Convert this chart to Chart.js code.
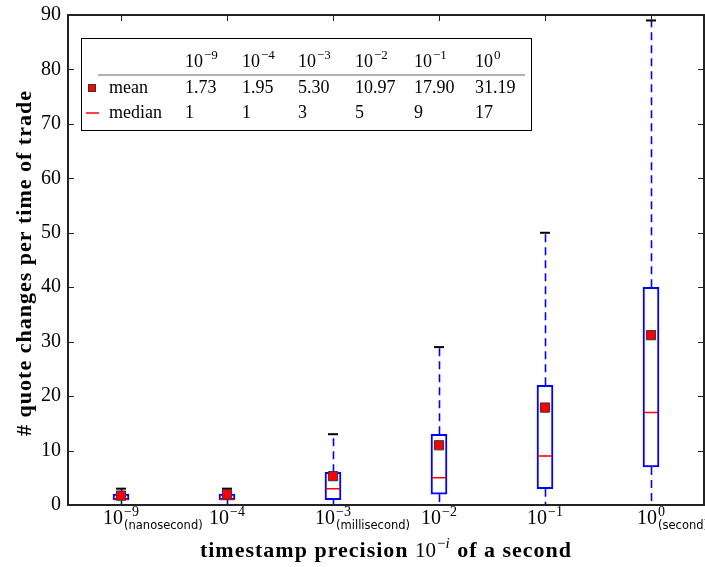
<!DOCTYPE html>
<html>
<head>
<meta charset="utf-8">
<script src="https://cdn.jsdelivr.net/npm/chart.js@4.4.1/dist/chart.umd.min.js"></script>
<style>
  html, body { margin: 0; padding: 0; background: #fff; }
</style>
</head>
<body>
<canvas id="boxChart" width="705" height="567"></canvas>
<script>
// precision 10^-i of a second
const exponents = [-9, -4, -3, -2, -1, 0];
const unitNames = ["(nanosecond)", "", "(millisecond)", "", "", "(second)"];

// box plot stats per precision
const whiskerLow = [0, 0, 0, 0, 0, 0];
const q1 = [1, 1, 1, 2, 3, 7];
const medians = [1, 1, 3, 5, 9, 17];
const q3 = [2, 2, 6, 13, 22, 40];
const whiskerHigh = [3, 3, 13, 29, 50, 89];
const means = [1.73, 1.95, 5.30, 10.97, 17.90, 31.19];

const yTitle = "# quote changes per time of trade";

const serif = "'Liberation Serif', 'DejaVu Serif', serif";
const sans = "'DejaVu Sans', sans-serif";

// draws 10^exp at x (baseline y), returns where the base "10" ends and the whole thing ends
function drawPow(ctx, x, y, exp, size, center, raise) {
  const sup = String(exp).replace("-", "\u2212");
  const supSize = Math.round(size * 0.72);
  ctx.font = size + "px " + serif;
  const wb = ctx.measureText("10").width;
  ctx.font = supSize + "px " + serif;
  const ws = ctx.measureText(sup).width;
  const x0 = center ? x - (wb + ws + 1) / 2 : x;
  ctx.textAlign = "left";
  ctx.textBaseline = "alphabetic";
  ctx.font = size + "px " + serif;
  ctx.fillText("10", x0, y);
  ctx.font = supSize + "px " + serif;
  ctx.fillText(sup, x0 + wb + 1, y - raise);
  return { base: x0 + wb, end: x0 + wb + 1 + ws };
}

const boxPlotExtras = {
  id: "boxPlotExtras",
  beforeDatasetsDraw(chart) {
    const { ctx } = chart;
    const xs = chart.scales.x, ys = chart.scales.y;
    ctx.save();
    // dashed whiskers
    ctx.strokeStyle = "blue";
    ctx.lineWidth = 1.6;
    ctx.setLineDash([8, 5]);
    exponents.forEach((e, i) => {
      const x = Math.round(xs.getPixelForValue(i)) + 0.5;
      ctx.beginPath();
      ctx.moveTo(x, ys.getPixelForValue(q3[i]));
      ctx.lineTo(x, ys.getPixelForValue(whiskerHigh[i]));
      ctx.stroke();
      ctx.beginPath();
      ctx.moveTo(x, ys.getPixelForValue(q1[i]));
      ctx.lineTo(x, ys.getPixelForValue(whiskerLow[i]));
      ctx.stroke();
    });
    ctx.restore();
  },
  afterDraw(chart) {
    const { ctx, chartArea: a } = chart;
    const xs = chart.scales.x, ys = chart.scales.y;
    ctx.save();
    // frame
    ctx.strokeStyle = "#222";
    ctx.lineWidth = 2;
    ctx.strokeRect(a.left, a.top, a.right - a.left, a.bottom - a.top);
    // inward ticks
    ctx.lineWidth = 1;
    ctx.beginPath();
    ys.ticks.forEach((t) => {
      const y = Math.round(ys.getPixelForValue(t.value)) + 0.5;
      ctx.moveTo(a.left, y); ctx.lineTo(a.left + 6, y);
      ctx.moveTo(a.right, y); ctx.lineTo(a.right - 6, y);
    });
    exponents.forEach((e, i) => {
      const x = Math.round(xs.getPixelForValue(i)) + 0.5;
      ctx.moveTo(x, a.top); ctx.lineTo(x, a.top + 6);
    });
    ctx.stroke();

    // x tick labels
    ctx.fillStyle = "#000";
    exponents.forEach((e, i) => {
      const p = drawPow(ctx, xs.getPixelForValue(i), 524, e, 20, true, 8);
      if (unitNames[i]) {
        ctx.font = "11.5px " + sans;
        ctx.fillText(unitNames[i], p.base + 1, 529);
      }
    });

    // x title: timestamp precision 10^-i of a second
    const p1 = "timestamp precision ", p3 = " of a second";
    const bold = "bold 22px " + serif;
    ctx.letterSpacing = "1px";
    ctx.font = bold;
    const w1 = ctx.measureText(p1).width, w3 = ctx.measureText(p3).width;
    ctx.letterSpacing = "0px";
    ctx.font = "21px " + serif;
    const w10 = ctx.measureText("10").width;
    ctx.font = "15px " + serif;
    const wm = ctx.measureText("\u2212").width;
    ctx.font = "italic 15px " + serif;
    const wi = ctx.measureText("i").width;
    let tx = (a.left + a.right) / 2 - (w1 + w10 + wm + wi + 2 + w3) / 2;
    const ty = 557;
    ctx.letterSpacing = "1px";
    ctx.font = bold;
    ctx.fillText(p1, tx, ty); tx += w1;
    ctx.letterSpacing = "0px";
    ctx.font = "21px " + serif;
    ctx.fillText("10", tx, ty); tx += w10 + 1;
    ctx.font = "15px " + serif;
    ctx.fillText("\u2212", tx, ty - 9); tx += wm;
    ctx.font = "italic 15px " + serif;
    ctx.fillText("i", tx, ty - 9); tx += wi + 1;
    ctx.letterSpacing = "1px";
    ctx.font = bold;
    ctx.fillText(p3, tx, ty);

    // y title
    ctx.save();
    ctx.translate(31, (a.top + a.bottom) / 2 + 3);
    ctx.rotate(-Math.PI / 2);
    ctx.textAlign = "center";
    ctx.font = bold;
    ctx.fillText(yTitle, 0, 0);
    ctx.restore();
    ctx.letterSpacing = "0px";
    ctx.textAlign = "left";

    // table legend
    const L = 81, T = 38, R = 531, B = 130;
    ctx.fillStyle = "#fff";
    ctx.fillRect(L, T, R - L, B - T);
    ctx.strokeStyle = "#000";
    ctx.lineWidth = 1;
    ctx.strokeRect(L + 0.5, T + 0.5, R - L, B - T);
    const cols = [185, 242, 298, 355, 414, 475];
    ctx.fillStyle = "#000";
    exponents.forEach((e, i) => drawPow(ctx, cols[i], 67, e, 18, false, 8));
    ctx.strokeStyle = "#999";
    ctx.lineWidth = 1.5;
    ctx.beginPath();
    ctx.moveTo(98, 75); ctx.lineTo(525, 75);
    ctx.stroke();
    ctx.font = "18px " + serif;
    ctx.fillStyle = "#000";
    ctx.fillText("mean", 109, 93);
    ctx.fillText("median", 109, 118);
    means.forEach((m, i) => ctx.fillText(m.toFixed(2), cols[i], 93));
    medians.forEach((m, i) => ctx.fillText(String(m), cols[i], 118));
    ctx.fillStyle = "red";
    ctx.fillRect(88.5, 84.5, 7, 7);
    ctx.strokeStyle = "#333";
    ctx.lineWidth = 1;
    ctx.strokeRect(88.5, 84.5, 7, 7);
    ctx.strokeStyle = "red";
    ctx.lineWidth = 1.5;
    ctx.beginPath();
    ctx.moveTo(86, 113); ctx.lineTo(99, 113);
    ctx.stroke();
    ctx.restore();
  }
};

const ctx = document.getElementById("boxChart").getContext("2d");
new Chart(ctx, {
  data: {
    labels: exponents.map((e) => "10^" + e),
    datasets: [
      {
        type: "line", label: "mean", data: means, order: 0,
        showLine: false, pointStyle: "rect", pointRadius: 6.5,
        pointBackgroundColor: "red", pointBorderColor: "#333", pointBorderWidth: 1
      },
      {
        type: "line", label: "median", data: medians, order: 1,
        showLine: false, pointStyle: "line", pointRadius: 7,
        pointBorderColor: "red", pointBorderWidth: 1.5
      },
      {
        type: "line", label: "cap high", data: whiskerHigh, order: 2,
        showLine: false, pointStyle: "line", pointRadius: 5,
        pointBorderColor: "#000", pointBorderWidth: 2
      },
      {
        type: "line", label: "cap low", data: whiskerLow, order: 2,
        showLine: false, pointStyle: "line", pointRadius: 5,
        pointBorderColor: "#000", pointBorderWidth: 2
      },
      {
        type: "bar", label: "box", order: 3,
        data: q1.map((v, i) => [v, q3[i]]),
        backgroundColor: "#fff", borderColor: "blue", borderWidth: 2,
        borderSkipped: false, barThickness: 16
      }
    ]
  },
  options: {
    responsive: false,
    animation: false,
    events: [],
    layout: { autoPadding: false, padding: { top: 15, right: 1, left: 0, bottom: 0 } },
    plugins: { legend: { display: false }, tooltip: { enabled: false } },
    scales: {
      x: {
        offset: true,
        grid: { display: false, drawTicks: false },
        border: { display: false },
        ticks: { display: false },
        afterFit: (s) => { s.height = 62; s.paddingLeft = 0; s.paddingRight = 0; }
      },
      y: {
        min: 0, max: 90,
        grid: { display: false, drawTicks: false },
        border: { display: false },
        ticks: { stepSize: 10, padding: 7, color: "#000", font: { family: serif, size: 20 } },
        afterFit: (s) => { s.width = 68; s.paddingTop = 0; s.paddingBottom = 0; }
      }
    }
  },
  plugins: [boxPlotExtras]
});
</script>
</body>
</html>
